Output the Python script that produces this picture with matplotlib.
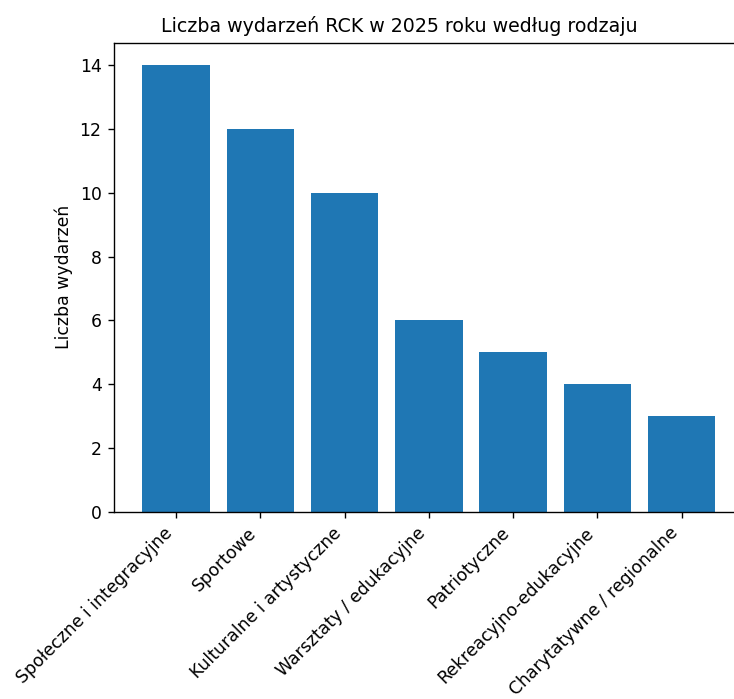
import matplotlib
matplotlib.use("Agg")
import matplotlib.pyplot as plt

rodzaje = [
    "Społeczne i integracyjne",
    "Sportowe",
    "Kulturalne i artystyczne",
    "Warsztaty / edukacyjne",
    "Patriotyczne",
    "Rekreacyjno-edukacyjne",
    "Charytatywne / regionalne",
]
liczba = [14, 12, 10, 6, 5, 4, 3]

# oryginal wyglada na przyciety zrzut: prawa krawedz osi wychodzi poza obraz
dpi = 124
fig, ax = plt.subplots(figsize=(734 / dpi, 699 / dpi), dpi=dpi)
fig.subplots_adjust(left=0.1548, right=1.0136, top=0.939, bottom=0.2675)

ax.bar(rodzaje, liczba, color="tab:blue")
ax.set_title("Liczba wydarzeń RCK w 2025 roku według rodzaju", x=0.4527, fontsize=11)
ax.set_ylabel("Liczba wydarzeń")
plt.setp(ax.get_xticklabels(), rotation=45, ha="right")

fig.savefig("out.png", dpi=dpi)
